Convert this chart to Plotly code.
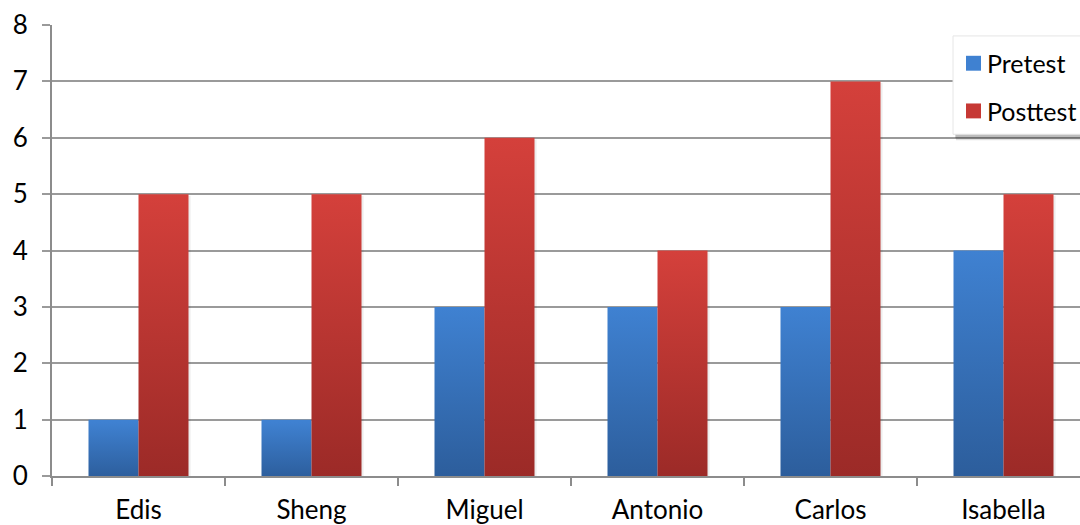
import plotly.graph_objects as go

# Scores per student
students = ["Edis", "Sheng", "Miguel", "Antonio", "Carlos", "Isabella"]
pretest = [1, 1, 3, 3, 3, 4]
posttest = [5, 5, 6, 4, 7, 5]
y_ticks = [0, 1, 2, 3, 4, 5, 6, 7, 8]

series = [
    ("Pretest", pretest, "#2c5d9b", "#3f81d1", -1),
    ("Posttest", posttest, "#9b2a27", "#d4403b", 0),
]

BAR_W = 0.289
FONT = "Lato, 'Open Sans', sans-serif"
W, H = 1080, 525
ML, MR, MT, MB = 52, 0, 25, 46
PW, PH = W - ML - MR, H - MT - MB
X0 = -0.5
X1 = X0 + PW / 173.0

fig = go.Figure()

# Each bar is a filled polygon so it can carry a vertical gradient
for name, vals, dark, light, side in series:
    for i, (cat, v) in enumerate(zip(students, vals)):
        left = i + side * BAR_W
        right = left + BAR_W
        # soft drop shadow
        fig.add_trace(go.Scatter(
            x=[left + 0.01, right + 0.012, right + 0.012, left + 0.01, left + 0.01],
            y=[0, 0, v - 0.03, v - 0.03, 0],
            fill="toself", mode="none", fillcolor="rgba(0,0,0,0.07)",
            hoverinfo="skip", showlegend=False,
        ))
        fig.add_trace(go.Scatter(
            x=[left, right, right, left, left],
            y=[0, 0, v, v, 0],
            fill="toself", mode="none",
            fillgradient=dict(type="vertical", start=0, stop=v,
                              colorscale=[[0, dark], [1, light]]),
            name=name, text=f"{cat}: {v}", hoverinfo="text+name",
            showlegend=False,
        ))

fig.update_xaxes(
    range=[X0, X1], tickvals=list(range(len(students))), ticktext=students,
    ticks="", showgrid=False, zeroline=False,
    showline=True, linecolor="#8c8c8c", linewidth=2,
    tickfont=dict(family=FONT, size=26, color="#000"),
    ticklabelstandoff=10,
    minor=dict(tickvals=[k - 0.5 for k in range(len(students) + 1)],
               ticks="outside", ticklen=8, tickwidth=2, tickcolor="#8c8c8c",
               showgrid=False),
)
fig.update_yaxes(
    range=[0, 8], tickvals=y_ticks, ticks="outside", ticklen=8, tickwidth=2,
    tickcolor="#9a9a9a", showgrid=True, gridcolor="#9a9a9a", gridwidth=2,
    zeroline=False, showline=True, linecolor="#8c8c8c", linewidth=2,
    tickfont=dict(family=FONT, size=26, color="#000"),
    ticklabelstandoff=9,
)

# Legend box drawn in pixel-based paper coordinates
def px(x):
    return (x - ML) / PW

def py(y):
    return (H - MB - y) / PH

shapes = [
    dict(type="rect", xref="paper", yref="paper",
         x0=px(956), x1=px(1095), y0=py(141), y1=py(40),
         fillcolor="rgba(0,0,0,0.12)", line=dict(width=0), layer="above"),
    dict(type="rect", xref="paper", yref="paper",
         x0=px(955), x1=px(1094), y0=py(139), y1=py(38),
         fillcolor="rgba(0,0,0,0.16)", line=dict(width=0), layer="above"),
    dict(type="rect", xref="paper", yref="paper",
         x0=px(953), x1=px(1092), y0=py(135), y1=py(36),
         fillcolor="#ffffff", line=dict(color="#e6e6e6", width=1), layer="above"),
]
annotations = []
for k, (name, vals, dark, light, side) in enumerate(series):
    top = 56 + k * 48
    shapes.append(dict(type="rect", xref="paper", yref="paper",
                       x0=px(966), x1=px(981), y0=py(top + 15), y1=py(top),
                       fillcolor=light if k == 0 else "#c63834",
                       line=dict(width=0), layer="above"))
    annotations.append(dict(xref="paper", yref="paper", x=px(985), y=py(top + 7.5),
                            text=name, showarrow=False, xanchor="left", yanchor="middle",
                            font=dict(family=FONT, size=25, color="#000")))

fig.update_layout(
    width=W, height=H,
    margin=dict(l=ML, r=MR, t=MT, b=MB),
    paper_bgcolor="#ffffff", plot_bgcolor="#ffffff",
    shapes=shapes, annotations=annotations, showlegend=False,
)

fig.write_html("out.html")
